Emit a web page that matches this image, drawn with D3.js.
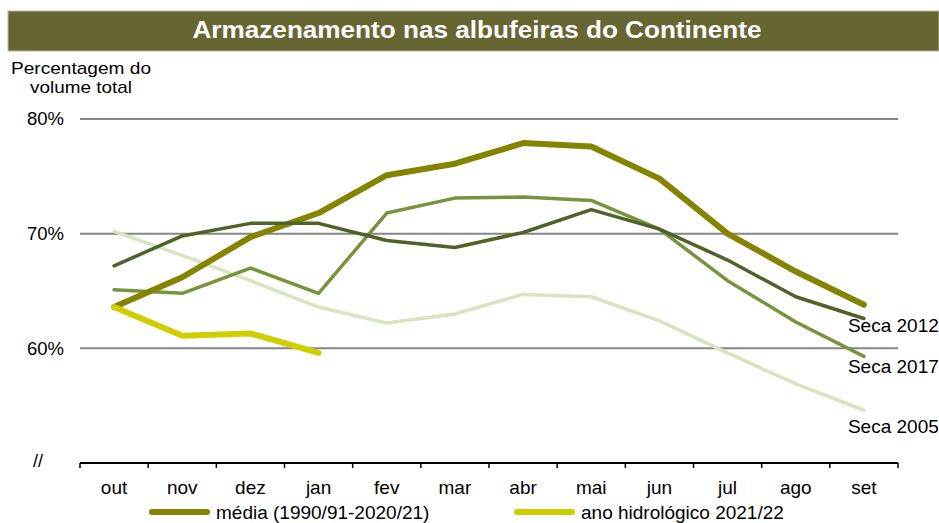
<!DOCTYPE html>
<html>
<head>
<meta charset="utf-8">
<script src="https://cdn.jsdelivr.net/npm/d3@7"></script>
<style>
  body { margin: 0; background: #fff; }
  svg { display: block; font-family: "Liberation Sans", Arial, sans-serif; }
</style>
</head>
<body>
<div id="chart"></div>
<script>
"use strict";

// months of the hydrological year
const months = ["out", "nov", "dez", "jan", "fev", "mar", "abr", "mai", "jun", "jul", "ago", "set"];

// storage, % of total volume
const media = [63.6, 66.2, 69.7, 71.8, 75.1, 76.1, 77.9, 77.6, 74.8, 70.0, 66.7, 63.8];
const seca2012 = [67.2, 69.8, 70.9, 70.9, 69.4, 68.8, 70.1, 72.1, 70.4, 67.7, 64.5, 62.6];
const seca2017 = [65.1, 64.8, 67.0, 64.8, 71.8, 73.1, 73.2, 72.9, 70.4, 65.9, 62.3, 59.3];
const seca2005 = [70.2, 68.1, 65.9, 63.6, 62.2, 63.0, 64.7, 64.5, 62.4, 59.6, 56.9, 54.6];
const ano2122 = [63.6, 61.1, 61.3, 59.6];

const yTicks = [60, 70, 80];

const series = [
  { name: "Seca 2005", values: seca2005, color: "#d7e4bd", width: 3.5, label: "Seca 2005", dy: 23 },
  { name: "Seca 2017", values: seca2017, color: "#77933c", width: 3.5, label: "Seca 2017", dy: 17 },
  { name: "média (1990/91-2020/21)", values: media, color: "#848400", width: 6 },
  { name: "Seca 2012", values: seca2012, color: "#4f6228", width: 3.5, label: "Seca 2012", dy: 13 },
  { name: "ano hidrológico 2021/22", values: ano2122, color: "#cfcf00", width: 6 }
];

const W = 939, H = 523;
const svg = d3.select("#chart").append("svg")
  .attr("width", W)
  .attr("height", H);

// title bar
svg.append("rect")
  .attr("x", 8).attr("y", 11)
  .attr("width", 931).attr("height", 40)
  .attr("fill", "#666633")
  .attr("stroke", "#b8b898")
  .attr("stroke-width", 1);
svg.append("text")
  .attr("x", 477).attr("y", 38)
  .attr("text-anchor", "middle")
  .attr("fill", "#fff")
  .attr("font-weight", "bold")
  .attr("font-size", 24)
  .attr("textLength", 569)
  .attr("lengthAdjust", "spacingAndGlyphs")
  .text("Armazenamento nas albufeiras do Continente");

// y axis title
const yTitle = svg.append("text")
  .attr("text-anchor", "middle")
  .attr("font-size", 17)
  .attr("fill", "#000");
yTitle.append("tspan").attr("x", 81).attr("y", 74)
  .attr("textLength", 140).attr("lengthAdjust", "spacingAndGlyphs")
  .text("Percentagem do");
yTitle.append("tspan").attr("x", 81).attr("y", 93)
  .attr("textLength", 102).attr("lengthAdjust", "spacingAndGlyphs")
  .text("volume total");

const x = d3.scaleBand().domain(months).range([80, 898]);
const y = d3.scaleLinear().domain([50, 80]).range([463, 119]);
const cx = d => x(d) + x.bandwidth() / 2;

// gridlines + y labels
svg.append("g")
  .selectAll("line")
  .data(yTicks)
  .join("line")
  .attr("x1", 80).attr("x2", 898)
  .attr("y1", d => y(d)).attr("y2", d => y(d))
  .attr("stroke", "#868686")
  .attr("stroke-width", 2);

svg.append("g")
  .selectAll("text")
  .data(yTicks)
  .join("text")
  .attr("x", 64)
  .attr("y", d => y(d))
  .attr("dy", "0.35em")
  .attr("text-anchor", "end")
  .attr("font-size", 18.5)
  .text(d => d + "%");

// x axis
const xAxis = svg.append("g")
  .attr("transform", "translate(0," + y(50) + ")");
xAxis.append("line")
  .attr("x1", 80).attr("x2", 898)
  .attr("stroke", "#000").attr("stroke-width", 2);
xAxis.selectAll("line.tick")
  .data(months.map(m => x(m)).concat([898]))
  .join("line")
  .attr("class", "tick")
  .attr("x1", d => d).attr("x2", d => d)
  .attr("y1", 0).attr("y2", 5)
  .attr("stroke", "#000").attr("stroke-width", 1.5);
xAxis.selectAll("text")
  .data(months)
  .join("text")
  .attr("x", d => cx(d))
  .attr("y", 31)
  .attr("text-anchor", "middle")
  .attr("font-size", 19)
  .text(d => d);

// axis break mark
svg.append("text")
  .attr("x", 38).attr("y", 467)
  .attr("text-anchor", "middle")
  .attr("font-size", 18)
  .text("//");

// lines
const line = d3.line()
  .x((d, i) => cx(months[i]))
  .y(d => y(d));

svg.append("g")
  .selectAll("path")
  .data(series)
  .join("path")
  .attr("d", d => line(d.values))
  .attr("fill", "none")
  .attr("stroke", d => d.color)
  .attr("stroke-width", d => d.width)
  .attr("stroke-linejoin", "round")
  .attr("stroke-linecap", "round");

// end labels
svg.append("g")
  .selectAll("text")
  .data(series.filter(s => s.label))
  .join("text")
  .attr("x", cx("set") - 16)
  .attr("y", d => y(d.values[d.values.length - 1]) + d.dy)
  .attr("font-size", 19)
  .text(d => d.label);

// legend
const legendItems = [series[2], series[4]];
const legendX = [152, 517];
const lg = svg.append("g").selectAll("g")
  .data(legendItems)
  .join("g")
  .attr("transform", (d, i) => "translate(" + legendX[i] + ",512)");
lg.append("line")
  .attr("x1", 0).attr("x2", 55)
  .attr("stroke", d => d.color)
  .attr("stroke-width", 6)
  .attr("stroke-linecap", "round");
lg.append("text")
  .attr("x", 64)
  .attr("y", 7)
  .attr("font-size", 19)
  .text(d => d.name);
</script>
</body>
</html>
